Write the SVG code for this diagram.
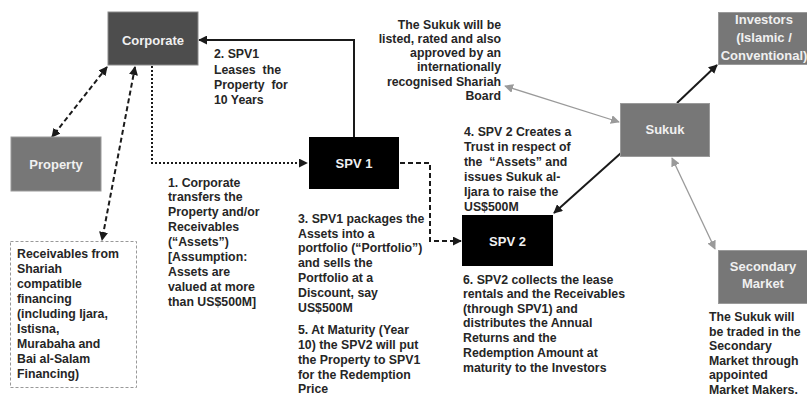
<svg xmlns="http://www.w3.org/2000/svg" width="807" height="396" viewBox="0 0 807 396">
<style>
.t{font-family:"Liberation Sans",Arial,sans-serif;font-weight:bold;font-size:12.3px;fill:#262626}
.n{font-family:"Liberation Sans",Arial,sans-serif;font-weight:bold;font-size:13px;fill:#f0f0f0;text-anchor:middle}
.g{fill:#777777;stroke:#9a9a9a;stroke-width:1}
.b{fill:#000000}
.ln{fill:none;stroke:#1a1a1a;stroke-width:2}
.gl{fill:none;stroke:#9a9a9a;stroke-width:1.3}
</style>
<defs>
<marker id="ah" viewBox="0 0 10 10" refX="9" refY="5" markerWidth="9" markerHeight="9" markerUnits="userSpaceOnUse" orient="auto-start-reverse"><path d="M0,0 L10,5 L0,10 z" fill="#1a1a1a"/></marker>
<marker id="ag" viewBox="0 0 10 10" refX="9" refY="5" markerWidth="9" markerHeight="9" markerUnits="userSpaceOnUse" orient="auto-start-reverse"><path d="M0,0 L10,5 L0,10 z" fill="#9a9a9a"/></marker>
</defs>

<g id="connectors">
<path class="ln" d="M107,67 L52,137" stroke-dasharray="5,3" marker-start="url(#ah)" marker-end="url(#ah)"/>
<path class="ln" d="M135,67 L102,240" stroke-dasharray="5,3" marker-start="url(#ah)" marker-end="url(#ah)"/>
<path class="ln" d="M152,66 L152,163 L307,163" stroke-dasharray="2,2" stroke-width="2.5" marker-end="url(#ah)"/>
<path class="ln" d="M354,137 L354,40 L199,40" marker-end="url(#ah)"/>
<path class="ln" d="M400,163 L430,163 L430,241 L461,241" stroke-dasharray="5,3" marker-end="url(#ah)"/>
<path class="ln" d="M677,103 L717,65" marker-end="url(#ah)"/>
<path class="ln" d="M621,153 L554,213" marker-end="url(#ah)"/>
<path class="gl" d="M505,86 L619,122" marker-start="url(#ag)" marker-end="url(#ag)"/>
<path class="gl" d="M672,158 L715,249" marker-start="url(#ag)" marker-end="url(#ag)"/>
</g>

<g id="corporate">
<rect x="108" y="12" width="90" height="53" fill="#4d4d4d" stroke="#8a8a8a" stroke-width="1"/>
<text class="n" x="153" y="44.5">Corporate</text>
</g>
<g id="property">
<rect class="g" x="11" y="137" width="90" height="54"/>
<text class="n" x="56" y="168.5">Property</text>
</g>
<g id="receivables">
<rect x="10.5" y="241.5" width="126" height="146" fill="none" stroke="#999" stroke-width="1" stroke-dasharray="3,2"/>
<text class="t" x="17" y="257.5">Receivables from</text>
<text class="t" x="17" y="272.5">Shariah</text>
<text class="t" x="17" y="287.5">compatible</text>
<text class="t" x="17" y="302.5">financing</text>
<text class="t" x="17" y="317.5">(including Ijara,</text>
<text class="t" x="17" y="332.5">Istisna,</text>
<text class="t" x="17" y="347.5">Murabaha and</text>
<text class="t" x="17" y="362.5">Bai al-Salam</text>
<text class="t" x="17" y="377.5">Financing)</text>
</g>
<g id="spv1">
<rect class="b" x="309" y="137" width="90" height="52"/>
<text class="n" x="354" y="167.5">SPV 1</text>
</g>
<g id="spv2">
<rect class="b" x="462" y="215" width="91" height="51"/>
<text class="n" x="507.5" y="245.5">SPV 2</text>
</g>
<g id="sukuk">
<rect class="g" x="620.5" y="103.5" width="89" height="53"/>
<text class="n" x="665" y="134">Sukuk</text>
</g>
<g id="investors">
<rect class="g" x="718.5" y="12.5" width="90" height="52"/>
<text class="n" x="764" y="23.5">Investors</text>
<text class="n" x="764" y="41.5">(Islamic /</text>
<text class="n" x="764" y="59.5">Conventional)</text>
</g>
<g id="secondary">
<rect class="g" x="718.5" y="250.5" width="90" height="53"/>
<text class="n" x="763" y="270.5">Secondary</text>
<text class="n" x="763" y="287.5">Market</text>
</g>

<g id="labels">
<text class="t" x="214" y="57.5">2. SPV1</text>
<text class="t" x="214" y="74" xml:space="preserve">Leases  the</text>
<text class="t" x="214" y="89" xml:space="preserve">Property  for</text>
<text class="t" x="214" y="104">10 Years</text>

<g text-anchor="end">
<text class="t" x="501" y="28.5">The Sukuk will be</text>
<text class="t" x="501" y="42.5">listed, rated and also</text>
<text class="t" x="501" y="57">approved by an</text>
<text class="t" x="501" y="71">internationally</text>
<text class="t" x="501" y="85.5">recognised Shariah</text>
<text class="t" x="501" y="99.5">Board</text>
</g>

<text class="t" x="168" y="186.5">1. Corporate</text>
<text class="t" x="168" y="200.5">transfers the</text>
<text class="t" x="168" y="216">Property and/or</text>
<text class="t" x="168" y="231">Receivables</text>
<text class="t" x="168" y="246">(“Assets”)</text>
<text class="t" x="168" y="261">[Assumption:</text>
<text class="t" x="168" y="276">Assets are</text>
<text class="t" x="168" y="291">valued at more</text>
<text class="t" x="168" y="306">than US$500M]</text>

<text class="t" x="298" y="222.5">3. SPV1 packages the</text>
<text class="t" x="298" y="237.5">Assets into a</text>
<text class="t" x="298" y="252">portfolio (“Portfolio”)</text>
<text class="t" x="298" y="267">and sells the</text>
<text class="t" x="298" y="282">Portfolio at a</text>
<text class="t" x="298" y="296.5">Discount, say</text>
<text class="t" x="298" y="311.5">US$500M</text>
<text class="t" x="298" y="333.5">5. At Maturity (Year</text>
<text class="t" x="298" y="348.5">10) the SPV2 will put</text>
<text class="t" x="298" y="363.5">the Property to SPV1</text>
<text class="t" x="298" y="378.5">for the Redemption</text>
<text class="t" x="298" y="393">Price</text>

<text class="t" x="464" y="135.5">4. SPV 2 Creates a</text>
<text class="t" x="464" y="150.5">Trust in respect of</text>
<text class="t" x="464" y="165.5" xml:space="preserve">the  “Assets” and</text>
<text class="t" x="464" y="180.5">issues Sukuk al-</text>
<text class="t" x="464" y="195.5">Ijara to raise the</text>
<text class="t" x="464" y="210.5">US$500M</text>

<text class="t" x="463" y="283.5">6. SPV2 collects the lease</text>
<text class="t" x="463" y="297.5">rentals and the Receivables</text>
<text class="t" x="463" y="312.5">(through SPV1) and</text>
<text class="t" x="463" y="326.5">distributes the Annual</text>
<text class="t" x="463" y="341.5">Returns and the</text>
<text class="t" x="463" y="356.5">Redemption Amount at</text>
<text class="t" x="463" y="371.5">maturity to the Investors</text>

<text class="t" x="709" y="321">The Sukuk will</text>
<text class="t" x="709" y="335.5">be traded in the</text>
<text class="t" x="709" y="350">Secondary</text>
<text class="t" x="709" y="364.5">Market through</text>
<text class="t" x="709" y="379">appointed</text>
<text class="t" x="709" y="393.5">Market Makers.</text>
</g>
</svg>
